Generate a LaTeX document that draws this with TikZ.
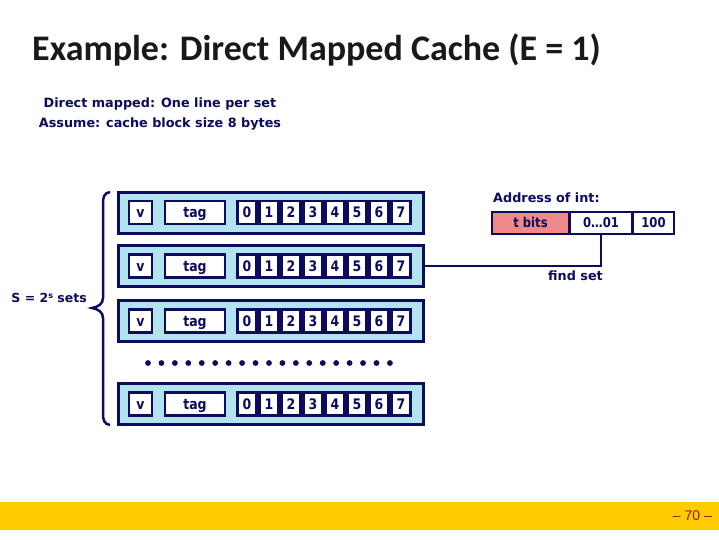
\documentclass[tikz,border=0pt]{standalone}
\usepackage{fontspec}
\setmainfont{Carlito}
\newfontfamily\tah{DejaVu Sans}
\newfontfamily\tahc{DejaVu Sans}[FakeStretch=0.86]
\newfontfamily\pgf{Liberation Sans}
\definecolor{navy}{HTML}{0C0C5C}
\definecolor{cacheblue}{HTML}{B3E3EE}
\definecolor{salmon}{HTML}{F08A8A}
\definecolor{footer}{HTML}{FFCC00}
\definecolor{pgred}{HTML}{8B1A1A}
\begin{document}
\begin{tikzpicture}[x=1pt,y=-1pt,
  linebox/.style={draw=navy,fill=cacheblue,line width=3pt,minimum width=305pt,minimum height=41pt,inner sep=0pt},
  cell/.style={draw=navy,fill=white,line width=2.2pt,minimum height=23pt,inner sep=0pt,text height=10pt,text depth=0pt,font=\tahc\bfseries\fontsize{14.5}{15}\selectfont,text=navy},
  addr/.style={draw=navy,line width=1.5pt,minimum height=22pt,inner sep=0pt,text height=9.5pt,text depth=0pt,font=\tahc\bfseries\fontsize{13.5}{14}\selectfont,text=navy},
  lbl/.style={text=navy,font=\tah\bfseries\fontsize{12.5}{14}\selectfont,inner sep=0pt}]
\useasboundingbox (0,0) rectangle (719,539);
\fill[white] (0,0) rectangle (719,539);
% title
\node[anchor=west,inner sep=0pt,font=\bfseries\fontsize{36}{40}\selectfont,text=black!90] (title) at (32,50) {Example: Direct Mapped Cache (E = 1)};
\node[align=center,inner sep=0pt,text=navy,font=\tah\bfseries\fontsize{12.8}{19.5}\selectfont] (sub) at (160,114) {Direct mapped: One line per set\\Assume: cache block size 8 bytes};
% rows
\foreach \r/\y in {1/212.5,2/266,3/321,4/404}{
  \node[linebox] (row\r) at (270.5,\y) {};
  \node[cell,minimum width=23pt] (v\r) at (140.5,\y) {v};
  \node[cell,minimum width=60pt] (tag\r) at (195,\y) {tag};
  \foreach \i in {0,...,7}{
    \node[cell,minimum width=19pt] (d\r\i) at (247+22*\i,\y) {\i};
  }
}
% dots
\foreach \k in {0,...,18}{
  \fill[navy] (148+13.44*\k,363) circle (2.9pt);
}
% brace
\draw[navy,line width=2.5pt] (110,192) .. controls (104,193) and (103,197) .. (103,204)
  -- (103,298) .. controls (103,304) and (98,307) .. (92,308)
  .. controls (98,309) and (103,312) .. (103,318)
  -- (103,413) .. controls (103,420) and (104,424) .. (110,425);
\node[lbl,anchor=east] (S) at (87,298) {S = 2\raisebox{0.55ex}{\fontsize{8}{9}\selectfont s} sets};
% address
\node[lbl,anchor=west,font=\tah\bfseries\fontsize{12.8}{14}\selectfont] (addrlbl) at (493,198) {Address of int:};
\node[addr,fill=salmon,minimum width=77pt] (tb) at (530.5,223) {t bits};
\node[addr,fill=white,minimum width=61pt,anchor=west] (mid) at (tb.east) {0\ldots01};
\node[addr,fill=white,minimum width=41pt,anchor=west] (off) at (mid.east) {100};
\draw[navy,line width=2.5pt] (mid.south) |- (row2.east);
\node[lbl,anchor=west,font=\tah\bfseries\fontsize{12.8}{14}\selectfont] (fs) at (548,276) {find set};
% footer
\fill[footer] (0,502) rectangle (719,530);
\node[anchor=east,inner sep=0pt,text=pgred,font=\pgf\fontsize{14}{15}\selectfont] (pg) at (712,516) {– 70 –};
\end{tikzpicture}
\end{document}
